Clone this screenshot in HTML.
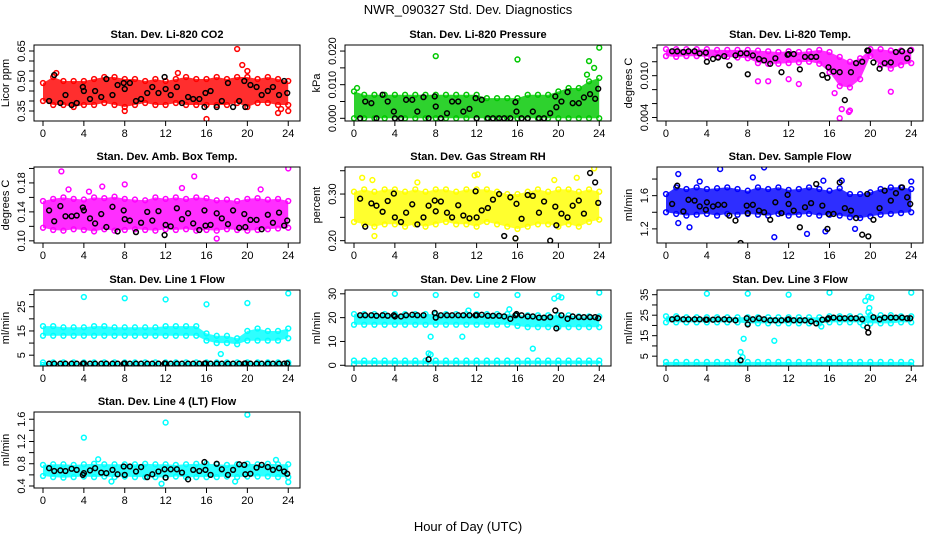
<!DOCTYPE html>
<html><head><meta charset="utf-8"><style>
html,body{margin:0;padding:0;background:#fff}
svg{display:block;font-family:"Liberation Sans",Arial,sans-serif}
</style></head><body>
<svg id="chart" width="936" height="540" viewBox="0 0 936 540" xmlns="http://www.w3.org/2000/svg">
<text x="468" y="14" text-anchor="middle" font-size="13">NWR_090327  Std. Dev. Diagnostics</text>
<text x="468" y="531" text-anchor="middle" font-size="13">Hour of Day (UTC)</text>
</svg>
<script>
const blkH=[0.6,1.1,1.7,2.2,2.8,3.3,3.9,4.0,4.6,5.1,5.7,6.2,6.8,7.3,7.9,8.0,8.5,9.1,9.6,10.2,10.7,11.3,11.9,12.0,12.5,13.1,13.6,14.2,14.7,15.3,15.8,15.9,16.4,17.0,17.5,18.1,18.6,19.2,19.7,19.8,20.3,20.9,21.4,22.0,22.5,23.1,23.6,23.9];
const bandH=[0,1,2,3,4,5,6,7,8,9,10,11,12,13,14,15,16,17,18,19,20,21,22,23,24];
const xTicks=[0,4,8,12,16,20,24];

const co2Lo=[0.40,0.38,0.38,0.37,0.38,0.38,0.39,0.38,0.37,0.38,0.39,0.38,0.38,0.39,0.38,0.38,0.38,0.38,0.38,0.39,0.37,0.39,0.39,0.38,0.38];
const co2Hi=[0.49,0.52,0.50,0.50,0.50,0.51,0.52,0.52,0.51,0.51,0.50,0.51,0.50,0.51,0.52,0.51,0.51,0.52,0.51,0.52,0.52,0.51,0.52,0.51,0.50];
const co2Blk=[0.40,0.53,0.39,0.43,0.38,0.39,0.47,0.45,0.41,0.45,0.42,0.51,0.43,0.48,0.49,0.46,0.49,0.40,0.41,0.44,0.47,0.44,0.52,0.46,0.43,0.47,0.39,0.42,0.41,0.41,0.37,0.44,0.45,0.37,0.40,0.49,0.37,0.40,0.50,0.37,0.48,0.47,0.43,0.45,0.47,0.43,0.50,0.44];
const co2OutH=[8,16,19,19.5,20,23,23.3,24,1.3,13.2];
const co2OutV=[0.35,0.31,0.66,0.58,0.55,0.34,0.36,0.35,0.54,0.54];
const prLo=[0,0,0,0,0,0,0,0,0,0,0,0,0,0,0,0,0,0,0,0,0,0,0,0,0];
const prHi=[0.008,0.007,0.007,0.007,0.007,0.007,0.007,0.007,0.007,0.007,0.007,0.007,0.007,0.006,0.006,0.006,0.006,0.007,0.007,0.007,0.008,0.009,0.009,0.011,0.012];
const prBlk=[0,0.005,0.0045,0,0.007,0.005,0.002,0,0,0.0055,0.0055,0.002,0.0063,0,0.0065,0.0035,0,0.0015,0.005,0.005,0.002,0.0028,0.006,0,0.0055,0,0,0,0,0,0.0048,0.002,0,0,0.002,0,0,0.0015,0.0065,0.0033,0.005,0.0078,0.0045,0.0045,0.0062,0.0072,0.0058,0.0088];
const prOutH=[8,16,23,23.5,24,22.8,0.3];
const prOutV=[0.0185,0.0175,0.017,0.015,0.021,0.013,0.009];
const tpLo=[0.0128,0.0127,0.0128,0.0128,0.0127,0.0127,0.0127,0.0126,0.0125,0.0118,0.0117,0.0117,0.0118,0.0119,0.012,0.0117,0.0105,0.0085,0.0083,0.0095,0.0128,0.0115,0.011,0.0115,0.0118];
const tpHi=[0.0138,0.0138,0.0138,0.0138,0.0138,0.0137,0.0137,0.0137,0.0137,0.0136,0.0135,0.0134,0.0135,0.0134,0.0135,0.0137,0.0134,0.0127,0.012,0.0125,0.0138,0.0138,0.0136,0.0136,0.0137];
const tpBlk=[.0135,.0135,.0134,.0135,.0135,.0132,.0133,.0120,.0124,.0126,.0128,.0115,.0129,.0132,.0132,.0102,.0129,.0124,.0122,.0117,.0125,.0105,.0130,.0131,.0131,.0109,.0127,.0127,.0127,.0101,.0097,.0112,.0106,.0105,.0065,.0105,.0118,.0120,.0136,.0136,.0119,.0110,.0118,.0119,.0134,.0135,.0125,.0136];
const tpOutH=[17,17.2,17.9,18,22,16.5,9,10,13,12];
const tpOutV=[0.0039,0.0052,0.0048,0.005,0.0077,0.0075,0.0092,0.0092,0.0088,0.0095];
const abLo=[0.118,0.115,0.114,0.116,0.115,0.113,0.116,0.114,0.115,0.116,0.115,0.114,0.116,0.115,0.116,0.114,0.115,0.114,0.116,0.115,0.114,0.115,0.116,0.117,0.118];
const abHi=[0.155,0.158,0.160,0.158,0.157,0.160,0.159,0.161,0.158,0.157,0.156,0.160,0.158,0.160,0.158,0.160,0.159,0.156,0.157,0.155,0.158,0.159,0.157,0.158,0.155];
const abBlk=[0.142,0.127,0.148,0.134,0.134,0.135,0.146,0.142,0.131,0.124,0.137,0.119,0.147,0.113,0.142,0.130,0.128,0.112,0.125,0.140,0.128,0.141,0.108,0.122,0.120,0.145,0.130,0.138,0.124,0.115,0.142,0.121,0.122,0.138,0.131,0.123,0.142,0.118,0.137,0.119,0.129,0.129,0.116,0.136,0.125,0.139,0.121,0.128];
const abOutH=[1.8,8,14.8,24,17,5.8,13.6,2.5,4.5,21.3];
const abOutV=[0.196,0.178,0.189,0.20,0.103,0.175,0.173,0.171,0.168,0.171];
const rhLo=[0.24,0.235,0.23,0.235,0.235,0.23,0.235,0.23,0.235,0.24,0.235,0.235,0.23,0.24,0.235,0.23,0.225,0.23,0.235,0.235,0.23,0.235,0.23,0.24,0.245];
const rhHi=[0.305,0.31,0.305,0.31,0.31,0.305,0.31,0.305,0.31,0.31,0.305,0.31,0.31,0.31,0.305,0.30,0.30,0.305,0.31,0.305,0.31,0.31,0.305,0.31,0.305];
const rhBlk=[0.29,0.23,0.28,0.275,0.262,0.285,0.301,0.25,0.24,0.26,0.278,0.235,0.25,0.275,0.286,0.263,0.284,0.26,0.25,0.276,0.254,0.248,0.306,0.25,0.265,0.27,0.288,0.3,0.21,0.293,0.205,0.279,0.247,0.298,0.296,0.26,0.284,0.2,0.273,0.233,0.258,0.25,0.275,0.286,0.258,0.345,0.325,0.281];
const rhOutH=[0.8,1.8,2,6.2,11.8,12.1,19.6,23.5,15.8,21.8];
const rhOutV=[0.335,0.33,0.21,0.325,0.34,0.342,0.33,0.355,0.205,0.335];
const sfLo=[1.40,1.38,1.36,1.37,1.38,1.36,1.38,1.37,1.38,1.37,1.36,1.38,1.36,1.37,1.38,1.36,1.37,1.36,1.34,1.33,1.35,1.37,1.38,1.39,1.40];
const sfHi=[1.62,1.70,1.68,1.70,1.68,1.69,1.70,1.68,1.66,1.70,1.68,1.70,1.67,1.68,1.70,1.68,1.66,1.69,1.62,1.62,1.64,1.68,1.70,1.70,1.68];
const sfBlk=[1.50,1.72,1.41,1.55,1.54,1.47,1.43,1.52,1.47,1.49,1.49,1.36,1.30,1.03,1.48,1.39,1.49,1.42,1.40,1.31,1.52,1.39,1.61,1.50,1.42,1.22,1.46,1.51,1.74,1.48,1.20,1.38,1.38,1.76,1.45,1.42,1.33,1.13,1.62,1.11,1.31,1.45,1.66,1.54,1.63,1.70,1.58,1.50];
const sfOutH=[1.2,3.3,5.3,9.6,8.5,10.6,13.8,15.4,17.2,24,1.2,2.3,18.5,15.6];
const sfOutV=[1.86,1.77,1.92,1.94,1.82,1.10,1.14,1.78,1.78,1.77,1.27,1.22,1.20,1.17];
const l1Lo=[13,13,13,13,13,13,13,13,13,13,13,13,13,13,13,13,11,10,10,9.5,11,11,11,11,12];
const l1Hi=[17,17,16.5,16.5,16.5,17,17,16.5,16.5,16.5,16.5,16.5,17,17,17,17,14,13,13,12,15,16,15,15,16];
const l1LoB=[1,1,1,1,1,1,1,1,1,1,1,1,1,1,1,1,1,1,1,1,1,1,1,1,1];
const l1HiB=[2,2,2,2,2,2,2,2,2,2,2,2,2,2,2,2,2,2,2,2,2,2,2,2,2];
const l1Blk=[1.5,1.5,1.5,1.5,1.5,1.5,1.5,1.6,1.5,1.5,1.5,1.5,1.5,1.5,1.5,1.6,1.5,1.5,1.5,1.5,1.5,1.5,1.6,1.5,1.5,1.5,1.5,1.5,1.5,1.5,1.5,1.6,1.5,1.5,1.5,1.5,1.5,1.5,1.5,1.6,1.5,1.5,1.5,1.5,1.5,1.5,1.5,1.6];
const l1OutH=[4,8,12,16,17.4,20,24];
const l1OutV=[29,28.5,28,26,5.5,26.5,30.5];
const l2Lo=[17,17,17,17,17,17,17,17,17,17,17,17,17,17,17,17,16.5,16,16,16,16,16,16,16,16];
const l2Hi=[21.5,21.5,21.5,21.5,21.5,21.5,21.5,21.5,21.5,21.5,21.5,21.5,21.5,21.5,21.5,21.5,21,21,21,21,21,21,20.5,20.5,20.5];
const l2LoB=[0.5,0.5,0.5,0.5,0.5,0.5,0.5,0.5,0.5,0.5,0.5,0.5,0.5,0.5,0.5,0.5,0.5,0.5,0.5,0.5,0.5,0.5,0.5,0.5,0.5];
const l2HiB=[2,2,2,2,2,2,2,2,2,2,2,2,2,2,2,2,2,2,2,2,2,2,2,2,2];
const l2Blk=[21,21,21,20.8,21,20.8,21,20.5,20.5,21,21.2,21,21,2.5,22,20,21,21,21,21,21,21,21,21,21.2,20.8,20.8,20.8,20.5,19.5,21,21.5,21,20.5,20.5,20,20,20.2,23,15.5,21,19.5,20.5,20.2,20.2,20.2,20.2,19.8];
const l2OutH=[4,8,12,16,7.5,10.6,7.3,7.5,17.5,19.6,20,20.3,24,15.2,11.2];
const l2OutV=[30,29.5,29.5,29.5,12,12,5,4.5,7,28,29,28.5,30.5,23.5,23];
const l3Lo=[21.5,21.5,21.5,21.5,21.5,21.5,21.5,21.5,21,21,21,21,21,21,21,21,21.5,21.5,21.5,21.5,21,21,21,21.5,21.5];
const l3Hi=[24.5,24.5,24,24,24,24,24,24,24,24,24,24,24,24,24,24,24.5,24.5,24.5,24.5,25,25,25,24.5,24.5];
const l3LoB=[0.5,0.5,0.5,0.5,0.5,0.5,0.5,0.5,0.5,0.5,0.5,0.5,0.5,0.5,0.5,0.5,0.5,0.5,0.5,0.5,0.5,0.5,0.5,0.5,0.5];
const l3HiB=[2.2,2.2,2.2,2.2,2.2,2.2,2.2,2.2,2.2,2.2,2.2,2.2,2.2,2.2,2.2,2.2,2.2,2.2,2.2,2.2,2.2,2.2,2.2,2.2,2.2];
const l3Blk=[23,23.5,23,23,23,23,22.8,22.8,22.8,23,23,22.8,22.5,3,23.5,20.5,23,23.5,23,22.5,22.5,22.5,22.8,23,22.5,22.5,22.5,22,21,22.8,23,23.5,23.8,23.5,23.5,23.5,23.5,23,19,16.5,24,23,23.8,23.8,23.8,23.8,23.5,23.5];
const l3OutH=[4,8,12,16,24,7.6,10.6,7.3,7.5,19.5,19.8,20.1,19.3,15.2,19.8,19.9];
const l3OutV=[35.5,35.5,35,36,36,13.5,12.5,7,4.5,32,34,33.5,20,19.5,26.5,28.5];
const l4Lo=[0.58,0.56,0.55,0.56,0.57,0.56,0.57,0.56,0.57,0.56,0.56,0.56,0.55,0.57,0.56,0.56,0.56,0.56,0.57,0.56,0.57,0.57,0.57,0.56,0.56];
const l4Hi=[0.78,0.79,0.79,0.78,0.79,0.80,0.79,0.79,0.79,0.79,0.80,0.79,0.79,0.78,0.79,0.80,0.80,0.79,0.78,0.79,0.80,0.79,0.80,0.79,0.79];
const l4Blk=[0.72,0.67,0.68,0.67,0.71,0.69,0.60,0.63,0.68,0.72,0.64,0.63,0.69,0.61,0.75,0.60,0.75,0.66,0.74,0.56,0.61,0.66,0.70,0.55,0.70,0.70,0.64,0.52,0.69,0.67,0.83,0.69,0.60,0.80,0.70,0.60,0.69,0.79,0.78,0.61,0.62,0.73,0.78,0.74,0.69,0.72,0.66,0.62];
const l4OutH=[4,12,20,11.6,24,6.7,5.4,22.8,18.8];
const l4OutV=[1.27,1.54,1.68,0.44,0.47,0.48,0.88,0.87,0.48];

const NS='http://www.w3.org/2000/svg';
const svg=document.getElementById('chart');
const colX=[34,345,657], rowY=[45,167,290,412], PW=266, PH=76;
const XMIN=-0.88, XMAX=25.15;
const RR=2.4, SW=1.5;

const panels=[
 {name:'co2',title:'Stan. Dev. Li-820 CO2',unit:'Licor ppm',c:0,r:0,col:'#ff0000',ymin:0.30,ymax:0.68,ticks:[0.35,0.40,0.45,0.50,0.55,0.60,0.65],labels:[0.35,0.50,0.65],dec:2,bands:[[co2Lo,co2Hi]],blk:co2Blk,oh:co2OutH,ov:co2OutV},
 {name:'pressure',title:'Stan. Dev. Li-820 Pressure',unit:'kPa',c:1,r:0,col:'#00c800',ymin:-0.0008,ymax:0.0218,ticks:[0,0.005,0.010,0.015,0.020],labels:[0,0.010,0.020],dec:3,bands:[[prLo,prHi]],blk:prBlk,oh:prOutH,ov:prOutV},
 {name:'li820-temp',title:'Stan. Dev. Li-820 Temp.',unit:'degrees C',c:2,r:0,col:'#ff00ff',ymin:0.0035,ymax:0.0144,ticks:[0.004,0.006,0.008,0.010,0.012,0.014],labels:[0.004,0.010],dec:3,bands:[[tpLo,tpHi]],blk:tpBlk,oh:tpOutH,ov:tpOutV},
 {name:'amb-box-temp',title:'Stan. Dev. Amb. Box Temp.',unit:'degrees C',c:0,r:1,col:'#ff00ff',ymin:0.097,ymax:0.202,ticks:[0.10,0.12,0.14,0.16,0.18,0.20],labels:[0.10,0.14,0.18],dec:2,bands:[[abLo,abHi]],blk:abBlk,oh:abOutH,ov:abOutV},
 {name:'gas-stream-rh',title:'Stan. Dev. Gas Stream RH',unit:'percent',c:1,r:1,col:'#ffff00',ymin:0.195,ymax:0.358,ticks:[0.20,0.25,0.30,0.35],labels:[0.20,0.30],dec:2,bands:[[rhLo,rhHi]],blk:rhBlk,oh:rhOutH,ov:rhOutV},
 {name:'sample-flow',title:'Stan. Dev. Sample Flow',unit:'ml/min',c:2,r:1,col:'#0000ff',ymin:1.03,ymax:1.945,ticks:[1.2,1.4,1.6,1.8],labels:[1.2,1.6],dec:1,bands:[[sfLo,sfHi]],blk:sfBlk,oh:sfOutH,ov:sfOutV},
 {name:'line1-flow',title:'Stan. Dev. Line 1 Flow',unit:'ml/min',c:0,r:2,col:'#00ffff',ymin:0.54,ymax:31.9,ticks:[5,10,15,20,25,30],labels:[5,15,25],dec:0,bands:[[l1Lo,l1Hi],[l1LoB,l1HiB]],blk:l1Blk,oh:l1OutH,ov:l1OutV},
 {name:'line2-flow',title:'Stan. Dev. Line 2 Flow',unit:'ml/min',c:1,r:2,col:'#00ffff',ymin:-0.3,ymax:31.6,ticks:[0,10,20,30],labels:[0,10,20,30],dec:0,bands:[[l2Lo,l2Hi],[l2LoB,l2HiB]],blk:l2Blk,oh:l2OutH,ov:l2OutV},
 {name:'line3-flow',title:'Stan. Dev. Line 3 Flow',unit:'ml/min',c:2,r:2,col:'#00ffff',ymin:0.2,ymax:37.3,ticks:[5,10,15,20,25,30,35],labels:[5,15,25,35],dec:0,bands:[[l3Lo,l3Hi],[l3LoB,l3HiB]],blk:l3Blk,oh:l3OutH,ov:l3OutV},
 {name:'line4-flow',title:'Stan. Dev. Line 4 (LT) Flow',unit:'ml/min',c:0,r:3,col:'#00ffff',ymin:0.364,ymax:1.73,ticks:[0.4,0.6,0.8,1.0,1.2,1.4,1.6],labels:[0.4,0.8,1.2,1.6],dec:1,bands:[[l4Lo,l4Hi]],blk:l4Blk,oh:l4OutH,ov:l4OutV}
];

function mk(tag,attrs,parent){const e=document.createElementNS(NS,tag);for(const k in attrs)e.setAttribute(k,attrs[k]);(parent||svg).appendChild(e);return e;}

panels.forEach(p=>{
 const L=colX[p.c], T=rowY[p.r], B=T+PH, R=L+PW;
 const xs=h=>L+(h-XMIN)/(XMAX-XMIN)*PW;
 const ys=v=>B-(v-p.ymin)/(p.ymax-p.ymin)*PH;
 const g=mk('g',{});
 
 
 const t=mk('text',{x:(L+R)/2,y:T-7,'text-anchor':'middle','font-size':'11','font-weight':'bold'},g);
 t.textContent=p.title;
 
 
 const cid='clip-'+p.name;
 const cp=mk('clipPath',{id:cid},g);
 mk('rect',{x:L,y:T,width:PW,height:PH},cp);
 const data=mk('g',{'clip-path':'url(#'+cid+')'},g);
 
 
 p.bands.forEach(([lo,hi])=>{
  let d='';
  bandH.forEach((h,i)=>{d+=(i?'L':'M')+xs(h).toFixed(1)+','+ys(hi[i]).toFixed(1);});
  for(let i=bandH.length-1;i>=0;i--)d+='L'+xs(bandH[i]).toFixed(1)+','+ys(lo[i]).toFixed(1);
  const band=mk('path',{d:d+'Z',fill:p.col,'fill-opacity':0.82},data);
  
  
  bandH.forEach((h,i)=>{
   [hi[i],lo[i]].forEach(v=>{
    const c=mk('circle',{cx:xs(h),cy:ys(v),r:RR,fill:'none',stroke:p.col,'stroke-width':SW},data);
    
    
   });
  });
 });
 p.oh.forEach((h,i)=>{
  const c=mk('circle',{cx:xs(h),cy:ys(p.ov[i]),r:RR,fill:'none',stroke:p.col,'stroke-width':SW},data);
  
  
 });
 const n=Math.min(blkH.length,p.blk.length);
 for(let i=0;i<n;i++){
  const c=mk('circle',{cx:xs(blkH[i]),cy:ys(p.blk[i]),r:RR,fill:'none',stroke:'#000','stroke-width':SW},data);
  
  
 }
 const box=mk('rect',{x:L,y:T,width:PW,height:PH,fill:'none',stroke:'#000','stroke-width':1},g);
 
 
 xTicks.forEach(h=>{
  mk('line',{x1:xs(h),x2:xs(h),y1:B,y2:B+5,stroke:'#000'},g);
  const tl=mk('text',{x:xs(h),y:B+16,'text-anchor':'middle','font-size':'11'},g);
  tl.textContent=h;
  
  
 });
 p.ticks.forEach(v=>{mk('line',{x1:L-5,x2:L,y1:ys(v),y2:ys(v),stroke:'#000'},g);});
 p.labels.forEach(v=>{
  const yl=mk('text',{x:L-9,y:ys(v),'text-anchor':'middle','font-size':'11',transform:'rotate(-90 '+(L-9)+' '+ys(v)+')'},g);
  yl.textContent=v.toFixed(p.dec);
  
  
 });
 const yt=mk('text',{x:L-25,y:(T+B)/2,'text-anchor':'middle','font-size':'11',transform:'rotate(-90 '+(L-25)+' '+((T+B)/2)+')'},g);
 yt.textContent=p.unit;
 
 
});
</script>
</body></html>
